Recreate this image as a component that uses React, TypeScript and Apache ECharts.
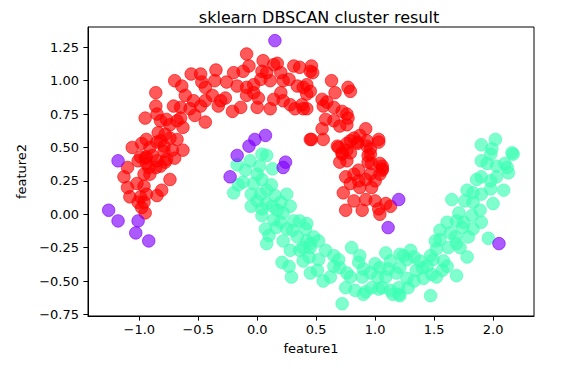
import React, { useEffect, useRef } from 'react';
import * as echarts from 'echarts';

const titleText = 'sklearn DBSCAN cluster result';
const xAxisName = 'feature1';
const yAxisName = 'feature2';
const xTicks = [-1.0, -0.5, 0.0, 0.5, 1.0, 1.5, 2.0];
const yTicks = [-0.75, -0.5, -0.25, 0.0, 0.25, 0.5, 0.75, 1.0, 1.25];

// cluster label -1 (noise)
const noisePoints: number[][] = [
  [0.15, 1.30], [-1.18, 0.40], [-1.26, 0.03], [-1.18, -0.05], [-1.01, -0.05], [-1.03, -0.14],
  [-0.92, -0.20], [0.07, 0.59], [-0.02, 0.56], [-0.07, 0.51], [-0.17, 0.44], [0.24, 0.39],
  [0.22, 0.35], [-0.23, 0.28], [1.20, 0.11], [1.11, -0.10], [2.05, -0.22],
];

// cluster label 0 (lower moon)
const cluster0Points: number[][] = [
  [2.02, 0.56], [1.90, 0.52], [1.99, 0.49], [1.98, 0.45], [2.16, 0.46], [2.17, 0.45], [1.90, 0.40], [1.95, 0.38], [2.10, 0.38],
  [2.03, 0.36], [2.12, 0.35], [2.13, 0.31], [1.86, 0.26], [1.90, 0.28], [1.98, 0.25], [2.03, 0.28], [2.09, 0.18], [1.78, 0.18],
  [1.83, 0.16], [1.90, 0.15], [1.98, 0.19], [2.00, 0.08], [1.89, 0.03], [1.65, 0.11], [1.76, 0.10], [1.83, 0.09], [1.82, -0.01],
  [1.90, -0.06], [1.96, -0.18], [1.83, -0.11], [1.79, -0.17], [1.71, 0.01], [1.69, -0.05], [1.74, -0.10], [1.75, -0.06],
  [1.61, -0.06], [1.64, -0.14], [1.68, -0.17], [1.72, -0.25], [1.78, -0.32], [1.69, -0.22], [1.62, -0.25], [1.55, -0.12],
  [1.55, -0.19], [1.51, -0.20], [1.52, -0.26], [1.58, -0.35], [1.49, -0.34], [1.47, -0.31], [1.44, -0.39], [1.38, -0.35],
  [1.35, -0.42], [1.30, -0.27], [1.33, -0.32], [1.27, -0.34], [1.24, -0.31], [1.21, -0.40], [1.18, -0.44], [1.11, -0.41],
  [1.09, -0.29], [1.13, -0.35], [1.09, -0.47], [1.04, -0.40], [1.00, -0.37], [0.96, -0.44], [0.97, -0.55], [1.03, -0.56],
  [1.06, -0.55], [1.13, -0.57], [1.20, -0.60], [1.20, -0.55], [1.27, -0.48], [1.33, -0.50], [1.41, -0.48], [1.48, -0.45],
  [1.52, -0.47], [1.57, -0.42], [1.61, -0.39], [1.69, -0.46], [1.47, -0.61], [0.87, -0.31], [0.86, -0.36], [0.90, -0.41],
  [0.89, -0.47], [0.92, -0.58], [0.80, -0.25], [0.76, -0.44], [0.75, -0.55], [0.83, -0.57], [0.79, -0.47], [0.72, -0.67],
  [0.65, -0.31], [0.65, -0.39], [0.69, -0.34], [0.70, -0.40], [0.58, -0.27], [0.56, -0.50], [0.62, -0.47], [0.52, -0.34],
  [0.51, -0.42], [0.45, -0.44], [0.41, -0.11], [0.36, -0.05], [0.42, -0.20], [0.48, -0.17], [0.52, -0.20], [0.45, -0.25],
  [0.36, -0.27], [0.39, -0.35],
  [-0.17, 0.37], [-0.06, 0.40], [0.04, 0.45], [0.08, 0.44], [0.13, 0.34], [-0.12, 0.24], [-0.20, 0.16], [-0.03, 0.23],
  [0.00, 0.30], [0.04, 0.26], [-0.05, 0.15], [0.03, 0.15], [0.08, 0.18], [0.15, 0.14], [0.25, 0.15], [-0.05, 0.06],
  [0.04, 0.04], [0.08, 0.08], [0.20, 0.09], [0.28, 0.06], [0.17, 0.03], [0.22, 0.01], [0.31, -0.05], [0.42, -0.07],
  [0.04, -0.01], [0.14, -0.04], [0.25, -0.11], [0.20, -0.06], [0.07, -0.11], [0.10, -0.16], [0.08, -0.22], [0.22, -0.20],
  [0.28, -0.27], [0.21, -0.36], [0.27, -0.39], [0.29, -0.47], [0.34, -0.17], [0.39, -0.25], [0.45, -0.22], [0.44, -0.32],
  [1.02, -0.47], [1.15, -0.60], [1.21, -0.61], [1.28, -0.55], [1.40, -0.40], [1.21, -0.30], [0.90, -0.60],
  [-0.10, 0.33], [-0.16, 0.22], [0.02, 0.36], [0.12, 0.22], [0.00, 0.10], [0.13, 0.06], [0.16, -0.10], [0.30, -0.12],
];

// cluster label 1 (upper moon)
const cluster1Points: number[][] = [
  [-0.09, 1.20], [0.05, 1.15], [0.14, 1.12], [0.17, 1.13], [-0.07, 1.11], [-0.12, 1.07], [0.04, 1.07], [0.08, 1.06],
  [0.31, 1.11], [0.20, 1.06], [-0.20, 1.06], [-0.35, 1.08], [-0.48, 1.05], [-0.56, 1.05], [-0.70, 1.00], [-0.64, 0.96],
  [-0.47, 0.99], [-0.44, 0.95], [-0.36, 1.00], [-0.26, 0.99], [-0.17, 0.96], [-0.09, 0.95], [-0.03, 0.97], [0.03, 1.01],
  [0.11, 1.00], [0.22, 1.00], [0.27, 1.01], [0.34, 0.96], [0.42, 0.97], [0.45, 1.07],
  [-0.86, 0.91], [-0.61, 0.89], [-0.54, 0.85], [-0.65, 0.80], [-0.71, 0.81], [-0.57, 0.79], [-0.48, 0.81], [-0.44, 0.85],
  [-0.38, 0.89], [-0.31, 0.85], [-0.27, 0.87], [-0.33, 0.81], [-0.21, 0.77], [-0.14, 0.80], [-0.09, 0.89], [-0.03, 0.91],
  [0.01, 0.87], [0.00, 0.80], [0.11, 0.79], [0.14, 0.86], [0.20, 0.91], [0.22, 0.85], [0.28, 0.82], [0.32, 0.79],
  [0.38, 0.82], [0.42, 0.79], [0.45, 0.92],
  [-0.86, 0.81], [-0.85, 0.75], [-0.95, 0.72], [-0.82, 0.70], [-0.77, 0.71], [-0.74, 0.67], [-0.68, 0.70], [-0.63, 0.65],
  [-0.65, 0.72], [-0.53, 0.74], [-0.44, 0.69], [-0.84, 0.61], [-0.78, 0.60], [-0.74, 0.57], [-0.82, 0.55], [-0.94, 0.56],
  [-0.98, 0.53], [-1.06, 0.50], [-0.91, 0.50], [-0.68, 0.56], [-0.63, 0.48], [-0.79, 0.47], [-0.89, 0.44], [-0.95, 0.42],
  [-0.99, 0.43], [-1.10, 0.35], [-1.01, 0.40], [-0.94, 0.38], [-0.86, 0.35], [-0.77, 0.41], [-0.78, 0.39], [0.45, 0.56],
  [-0.70, 0.42],
  [0.46, 1.11], [0.47, 1.06], [0.36, 1.10], [0.63, 1.00], [0.77, 0.95], [0.79, 0.92], [0.66, 0.91], [0.39, 0.95],
  [0.42, 0.90], [0.55, 0.86], [0.59, 0.84], [0.56, 0.81], [0.39, 0.79], [0.65, 0.80], [0.72, 0.77], [0.76, 0.75],
  [0.77, 0.72], [0.58, 0.71], [0.65, 0.70], [0.70, 0.66], [0.76, 0.67], [0.55, 0.64], [0.46, 0.56], [0.56, 0.56],
  [0.92, 0.64], [0.87, 0.59], [0.82, 0.57], [0.79, 0.55], [0.93, 0.55], [1.03, 0.56], [0.68, 0.51], [0.72, 0.46],
  [0.76, 0.48], [0.85, 0.53], [0.96, 0.49], [0.94, 0.44], [0.70, 0.39], [0.76, 0.40], [0.86, 0.33], [0.97, 0.38],
  [1.04, 0.38], [1.06, 0.34],
  [0.69, 0.50], [0.76, 0.53], [0.85, 0.54], [0.93, 0.51], [1.03, 0.54], [0.72, 0.45], [0.79, 0.46], [0.96, 0.45],
  [0.94, 0.39], [1.06, 0.36], [1.04, 0.30], [0.96, 0.30], [0.82, 0.30], [0.75, 0.28], [0.86, 0.25], [0.92, 0.26],
  [1.00, 0.25], [1.06, 0.33], [0.79, 0.23], [0.87, 0.20], [0.97, 0.20], [0.73, 0.16], [0.82, 0.10], [0.92, 0.11],
  [1.00, 0.10], [1.09, 0.08], [1.13, 0.06], [0.75, 0.03], [0.89, 0.03], [1.03, 0.04], [1.04, 0.00],
  [-0.85, 0.54], [-0.79, 0.51], [-0.72, 0.48], [-1.13, 0.28], [-1.10, 0.20], [-1.08, 0.13], [-0.94, 0.43], [-0.92, 0.35],
  [-0.96, 0.30], [-0.91, 0.30], [-0.82, 0.36], [-0.85, 0.40], [-1.02, 0.23], [-0.96, 0.21], [-0.94, 0.15], [-0.99, 0.13],
  [-0.96, 0.09], [-0.98, 0.05], [-0.95, 0.01], [-1.01, 0.09], [-0.85, 0.14], [-0.81, 0.18], [-0.74, 0.26],
];

const FONT = 'DejaVu Sans';
const minus = (s: string) => s.replace('-', '\u2212');

export default function App() {
  const ref = useRef<HTMLDivElement>(null);
  useEffect(() => {
    const chart = echarts.init(ref.current!, null, { renderer: 'svg' });
    const scatter = (name: string, data: number[][], color: string) => ({
      name,
      type: 'scatter',
      data,
      symbol: 'circle',
      symbolSize: 12.5,
      itemStyle: { color, opacity: 0.65, borderColor: color, borderWidth: 1 },
      emphasis: { disabled: true },
    });
    chart.setOption({
      animation: false,
      backgroundColor: '#ffffff',
      textStyle: { fontFamily: FONT },
      title: {
        text: titleText,
        left: 314,
        textAlign: 'center',
        top: 4,
        textStyle: { fontFamily: FONT, fontSize: 16, fontWeight: 'normal', color: '#000' },
      },
      grid: { left: 88, right: 47, top: 27, bottom: 53, show: true, borderColor: '#000', borderWidth: 1, outerBoundsMode: 'none' },
      xAxis: {
        type: 'value',
        min: -1.435,
        max: 2.347,
        name: xAxisName,
        nameLocation: 'middle',
        nameGap: 26,
        nameTextStyle: { fontFamily: FONT, fontSize: 13, color: '#000' },
        axisLine: { show: true, onZero: false, lineStyle: { color: '#000', width: 1 } },
        axisTick: { show: true, length: 4.6, customValues: xTicks, lineStyle: { color: '#000' } },
        axisLabel: {
          customValues: xTicks,
          margin: 7,
          fontFamily: FONT,
          fontSize: 13,
          color: '#000',
          formatter: (v: number) => minus(v.toFixed(1)),
        },
        splitLine: { show: false },
      },
      yAxis: {
        type: 'value',
        min: -0.762,
        max: 1.402,
        name: yAxisName,
        nameLocation: 'middle',
        nameGap: 54,
        nameTextStyle: { fontFamily: FONT, fontSize: 13, color: '#000' },
        axisLine: { show: true, onZero: false, lineStyle: { color: '#000', width: 1 } },
        axisTick: { show: true, length: 4.6, customValues: yTicks, lineStyle: { color: '#000' } },
        axisLabel: {
          customValues: yTicks,
          margin: 9,
          fontFamily: FONT,
          fontSize: 13,
          color: '#000',
          formatter: (v: number) => minus(v.toFixed(2)),
        },
        splitLine: { show: false },
      },
      series: [
        scatter('cluster 1', cluster1Points, '#ff0000'),
        scatter('cluster 0', cluster0Points, '#3cffb4'),
        scatter('noise', noisePoints, '#8000ff'),
      ],
    });
    return () => chart.dispose();
  }, []);
  return (
    <div
      ref={ref}
      style={{ position: 'fixed', left: 0, top: 0, width: 581, height: 369, background: '#fff' }}
    />
  );
}
